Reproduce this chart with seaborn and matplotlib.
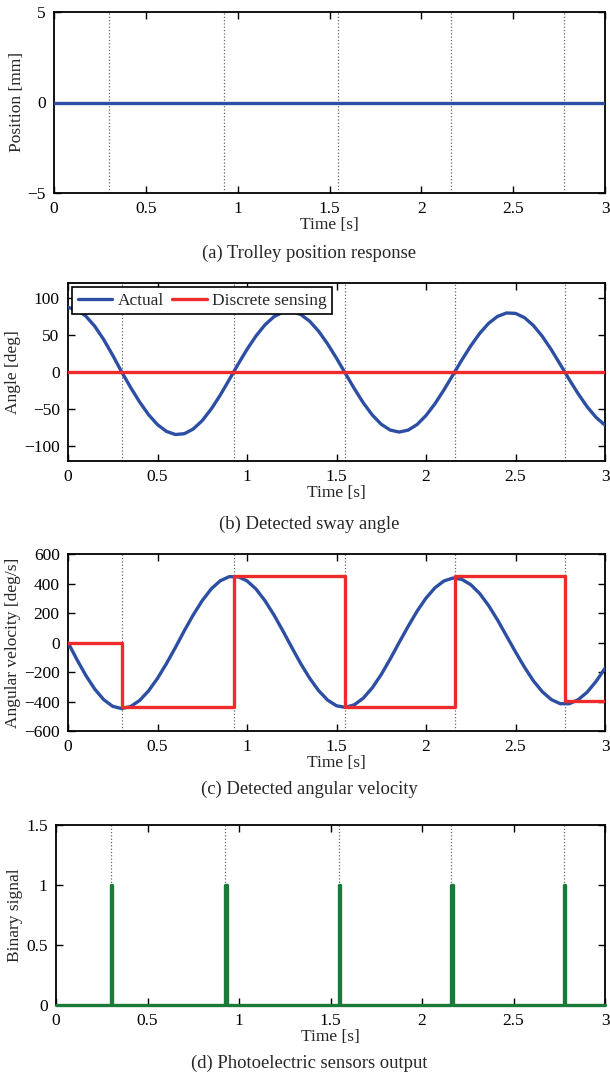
import matplotlib
matplotlib.use("Agg")
import matplotlib.pyplot as plt
from matplotlib.ticker import FuncFormatter
import numpy as np
import seaborn as sns

# ---- data ----
TIME = [round(0.05 * i, 2) for i in range(61)]

ANGLE_ACTUAL = [
    87.0, 84.0, 75.3, 61.5, 43.5, 22.5, 0.0, -20.9, -40.4, -57.5,
    -71.0, -80.1, -84.3, -83.2, -76.8, -65.5, -50.0, -31.4, -10.7, 10.4,
    30.5, 48.5, 63.5, 74.5, 80.7, 81.8, 77.6, 68.5, 55.0, 38.0,
    18.6, -2.1, -22.6, -41.7, -58.0, -70.5, -78.3, -81.0, -78.4, -70.9,
    -58.7, -42.8, -24.2, -4.1, 16.1, 35.2, 52.1, 65.7, 75.0, 79.6,
    79.0, 73.3, 62.7, 48.0, 30.1, 10.2, -10.0, -29.3, -46.8, -61.2,
    -71.7,
]

VEL_ACTUAL = [
    0, -116, -224, -317, -388, -433, -448, -434, -393, -328,
    -243, -143, -34, 80, 188, 284, 363, 418, 446, 446,
    418, 363, 284, 188, 80, -33, -143, -242, -326, -390,
    -429, -440, -422, -377, -307, -217, -112, 0, 109, 212,
    301, 371, 417, 437, 428, 392, 332, 250, 152, 44,
    -64, -167, -260, -334, -387, -415, -415, -388, -337, -264,
    -175,
]

# detection instants (photoelectric sensor hits)
DETECT_T = [0.30, 0.925, 1.545, 2.16, 2.775]
VEL_DISCRETE_T = [0.0, 0.30, 0.925, 1.545, 2.16, 2.775, 3.0]
VEL_DISCRETE = [0, -440, 450, -440, 450, -396, -396]
PULSE_WIDTH = 0.008

BLUE = "#2c4ea3"
RED = "#ee2a2a"
GREEN = "#1b7a3a"
W, H = 610, 1077

sns.set_theme(style="ticks")
plt.rcParams["font.family"] = ["Liberation Serif", "DejaVu Serif"]
FS = 12.5
LW = 2.4

fig = plt.figure(figsize=(W / 100, H / 100), dpi=100)


def make_axes(left, right, top, bottom):
    return fig.add_axes([left / W, 1 - bottom / H, (right - left) / W, (bottom - top) / H])


def style(ax, yticks, ylim, ylabel):
    ax.set_xlim(0, 3)
    ax.set_ylim(*ylim)
    ax.set_xticks(np.arange(0, 3.01, 0.5))
    ax.set_yticks(yticks)
    ax.xaxis.set_major_formatter(FuncFormatter(lambda v, p: f"{v:g}"))
    ax.yaxis.set_major_formatter(FuncFormatter(lambda v, p: f"{v:g}".replace("-", "\u2212")))
    ax.tick_params(direction="in", length=5, width=1, top=True, right=True,
                   labelsize=FS, colors="black", pad=6)
    for s in ax.spines.values():
        s.set_linewidth(1.3)
        s.set_color("black")
    ax.set_xlabel("Time [s]", fontsize=FS, labelpad=0)
    ax.set_ylabel(ylabel, fontsize=FS, labelpad=2)
    for t in DETECT_T:
        ax.axvline(t, color="#666666", linestyle=":", linewidth=0.9, zorder=1)


# (a) trolley position
ax = make_axes(54, 605, 12, 193)
sns.lineplot(x=[0, 3], y=[0, 0], ax=ax, color=BLUE, linewidth=LW, zorder=3)
style(ax, [-5, 0, 5], (-5, 5), "Position [mm]")

# (b) sway angle
ax = make_axes(68, 605, 283, 461)
sns.lineplot(x=TIME, y=ANGLE_ACTUAL, ax=ax, color=BLUE, linewidth=LW,
             label="Actual", zorder=3)
sns.lineplot(x=[0, 3], y=[0, 0], ax=ax, color=RED, linewidth=LW,
             label="Discrete sensing", zorder=4)
style(ax, [-100, -50, 0, 50, 100], (-120, 120), "Angle [deg]")
leg = ax.legend(loc="upper left", ncol=2, fontsize=FS, frameon=True, fancybox=False,
                edgecolor="black", framealpha=1, handlelength=2.0, handletextpad=0.3,
                columnspacing=0.5, borderpad=0.3, borderaxespad=0.25)
leg.get_frame().set_linewidth(1.2)

# (c) angular velocity
ax = make_axes(68, 605, 554, 731)
sns.lineplot(x=TIME, y=VEL_ACTUAL, ax=ax, color=BLUE, linewidth=LW, zorder=3)
sns.lineplot(x=VEL_DISCRETE_T, y=VEL_DISCRETE, ax=ax, color=RED, linewidth=LW,
             drawstyle="steps-post", estimator=None, sort=False, zorder=4)
style(ax, np.arange(-600, 601, 200), (-600, 600), "Angular velocity [deg/s]")

# (d) photoelectric sensor output
pulse_t, pulse_v = [0.0], [0]
for t in DETECT_T:
    pulse_t += [t, t, t + PULSE_WIDTH, t + PULSE_WIDTH]
    pulse_v += [0, 1, 1, 0]
pulse_t.append(3.0)
pulse_v.append(0)
ax = make_axes(56, 605, 825, 1005)
sns.lineplot(x=pulse_t, y=pulse_v, ax=ax, color=GREEN, linewidth=LW,
             estimator=None, sort=False, zorder=3, clip_on=False)
style(ax, [0, 0.5, 1, 1.5], (0, 1.5), "Binary signal")

for y, txt in [(253, "(a) Trolley position response"), (524, "(b) Detected sway angle"),
               (789, "(c) Detected angular velocity"), (1063, "(d) Photoelectric sensors output")]:
    fig.text(309 / W, 1 - y / H, txt, ha="center", va="center", fontsize=13.4)

fig.savefig("out.png", dpi=100)
